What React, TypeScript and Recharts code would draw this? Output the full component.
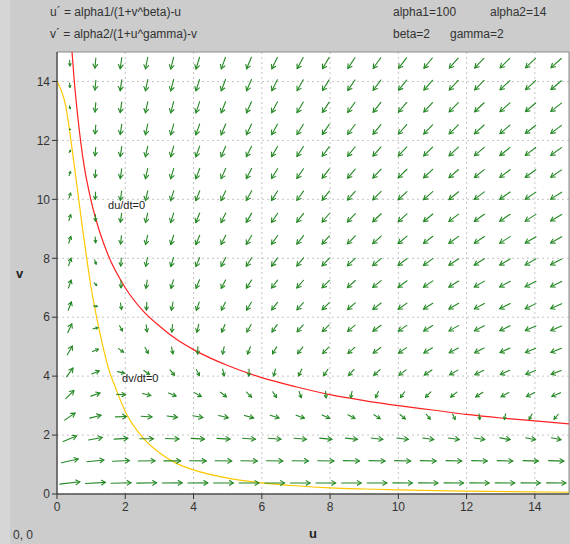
import React from 'react';
import { ComposedChart, XAxis, YAxis, CartesianGrid, Line, Scatter, ReferenceArea, ReferenceDot } from 'recharts';

// system parameters, as printed in the header
const ALPHA1 = 100;
const ALPHA2 = 14;
const BETA = 2;
const GAMMA = 2;

// direction-field grid (cell centres)
const U_CENTERS = [0.375, 1.125, 1.875, 2.625, 3.375, 4.125, 4.875, 5.625, 6.375, 7.125, 7.875, 8.625, 9.375, 10.125, 10.875, 11.625, 12.375, 13.125, 13.875, 14.625];
const V_CENTERS = [0.375, 1.125, 1.875, 2.625, 3.375, 4.125, 4.875, 5.625, 6.375, 7.125, 7.875, 8.625, 9.375, 10.125, 10.875, 11.625, 12.375, 13.125, 13.875, 14.625];

// du/dt=0 nullcline (red)
const RED_U = [0.44, 0.5, 0.6, 0.7, 0.8, 1, 1.25, 1.5, 2, 2.5, 3, 3.5, 4, 5, 6, 7, 8, 9, 10, 11, 12, 13, 14, 15];
const RED_V = [15, 14.1, 12.9, 11.9, 11.1, 9.95, 8.9, 8.1, 7, 6.24, 5.7, 5.25, 4.9, 4.36, 3.95, 3.64, 3.37, 3.17, 3.0, 2.85, 2.7, 2.58, 2.48, 2.38];

// dv/dt=0 nullcline (yellow)
const YEL_U = [0, 0.25, 0.5, 0.75, 1, 1.25, 1.5, 1.75, 2, 2.5, 3, 3.5, 4, 5, 6, 7, 8, 9, 10, 12, 15];
const YEL_V = [14, 13.2, 11.2, 9, 7, 5.5, 4.3, 3.5, 2.8, 1.93, 1.4, 1.04, 0.82, 0.54, 0.38, 0.28, 0.21, 0.17, 0.14, 0.1, 0.06];

const TICKS = [0, 2, 4, 6, 8, 10, 12, 14];

const W = 570;
const H = 544;
const M = { top: 52, right: 1, left: 0, bottom: 20 };
const Y_AXIS_W = 57;
const X_AXIS_H = 30;
const PLOT_W = W - M.left - M.right - Y_AXIS_W;
const PLOT_H = H - M.top - M.bottom - X_AXIS_H;
const SX = PLOT_W / 15;
const SY = PLOT_H / 15;
const FONT = 'Arial, "Liberation Sans", sans-serif';

const redData = RED_U.map((u, i) => ({ u, v: RED_V[i] }));
const yelData = YEL_U.map((u, i) => ({ u, v: YEL_V[i] }));

const field = V_CENTERS.flatMap(v =>
  U_CENTERS.map(u => ({
    u,
    v,
    du: ALPHA1 / (1 + Math.pow(v, BETA)) - u,
    dv: ALPHA2 / (1 + Math.pow(u, GAMMA)) - v,
  }))
);

const Arrow = (props: any) => {
  const { cx, cy, payload } = props;
  if (cx == null || cy == null) return null;
  const { du, dv } = payload;
  const m = Math.sqrt(du * du + dv * dv);
  let px = du * SX;
  let py = -dv * SY;
  const n = Math.sqrt(px * px + py * py) || 1;
  px /= n;
  py /= n;
  const len = 4.46 * Math.log(1 + m);
  const x1 = cx - (px * len) / 2;
  const y1 = cy - (py * len) / 2;
  const x2 = cx + (px * len) / 2;
  const y2 = cy + (py * len) / 2;
  const hl = Math.min(4.5, len * 0.45);
  const a = 0.55;
  const cos = Math.cos(a), sin = Math.sin(a);
  const bx = -px, by = -py;
  const h1x = x2 + hl * (bx * cos - by * sin);
  const h1y = y2 + hl * (bx * sin + by * cos);
  const h2x = x2 + hl * (bx * cos + by * sin);
  const h2y = y2 + hl * (-bx * sin + by * cos);
  return (
    <g stroke="#238823" strokeWidth={1.1} fill="none" strokeLinecap="round">
      <line x1={x1} y1={y1} x2={x2} y2={y2} />
      <polyline points={`${h1x},${h1y} ${x2},${y2} ${h2x},${h2y}`} />
    </g>
  );
};

const txt: React.CSSProperties = {
  position: 'absolute',
  fontFamily: FONT,
  fontSize: 12,
  color: '#333',
  whiteSpace: 'nowrap',
  lineHeight: '14px',
};

export default function App() {
  return (
    <div style={{ position: 'absolute', left: 0, top: 0, width: W, height: H, background: '#cccccc', overflow: 'hidden' }}>
      <div style={{ position: 'absolute', left: 0, top: 0, width: 10, height: H, background: '#d6d6d6' }} />
      <div style={{ ...txt, left: 50, top: 5 }}>u´ = alpha1/(1+v^beta)-u</div>
      <div style={{ ...txt, left: 50, top: 27 }}>v´ = alpha2/(1+u^gamma)-v</div>
      <div style={{ ...txt, left: 393, top: 5 }}>alpha1=100</div>
      <div style={{ ...txt, left: 490, top: 5 }}>alpha2=14</div>
      <div style={{ ...txt, left: 393, top: 27 }}>beta=2</div>
      <div style={{ ...txt, left: 450, top: 27 }}>gamma=2</div>
      <div style={{ ...txt, left: 13, top: 528 }}>0, 0</div>
      <div style={{ position: 'absolute', left: 0, top: 0 }}>
        <ComposedChart width={W} height={H} margin={M}>
          <CartesianGrid fill="#ffffff" stroke="#c4c4c4" strokeDasharray="2 3" horizontalValues={TICKS} verticalValues={TICKS} />
          <XAxis
            type="number"
            dataKey="u"
            domain={[0, 15]}
            ticks={TICKS}
            allowDataOverflow
            height={X_AXIS_H}
            stroke="#333"
            tickSize={5}
            tickMargin={3}
            tick={{ fill: '#333', fontSize: 12, fontFamily: FONT }}
            label={{ value: 'u', position: 'insideBottom', offset: -14, fill: '#222', fontSize: 13, fontWeight: 'bold', fontFamily: FONT }}
          />
          <YAxis
            type="number"
            dataKey="v"
            domain={[0, 15]}
            ticks={TICKS}
            allowDataOverflow
            width={Y_AXIS_W}
            stroke="#333"
            tickSize={5}
            tickMargin={2}
            tick={{ fill: '#333', fontSize: 12, fontFamily: FONT }}
            label={{ value: 'v', position: 'insideLeft', offset: 16, fill: '#222', fontSize: 13, fontWeight: 'bold', fontFamily: FONT }}
          />
          <ReferenceArea x1={0} x2={15} y1={0} y2={15} fill="none" stroke="#8a8a8a" strokeWidth={1} />
          <Scatter data={field} dataKey="v" shape={Arrow} isAnimationActive={false} />
          <Line data={yelData} dataKey="v" type="monotone" stroke="#ffc800" strokeWidth={1.2} dot={false} activeDot={false} isAnimationActive={false} />
          <Line data={redData} dataKey="v" type="monotone" stroke="#ff2020" strokeWidth={1.2} dot={false} activeDot={false} isAnimationActive={false} />
          <ReferenceDot x={1.35} y={9.8} r={0} stroke="none" label={{ value: 'du/dt=0', position: 'right', fill: '#222', fontSize: 11, fontFamily: FONT }} />
          <ReferenceDot x={1.76} y={3.94} r={0} stroke="none" label={{ value: 'dv/dt=0', position: 'right', fill: '#222', fontSize: 11, fontFamily: FONT }} />
        </ComposedChart>
      </div>
    </div>
  );
}
